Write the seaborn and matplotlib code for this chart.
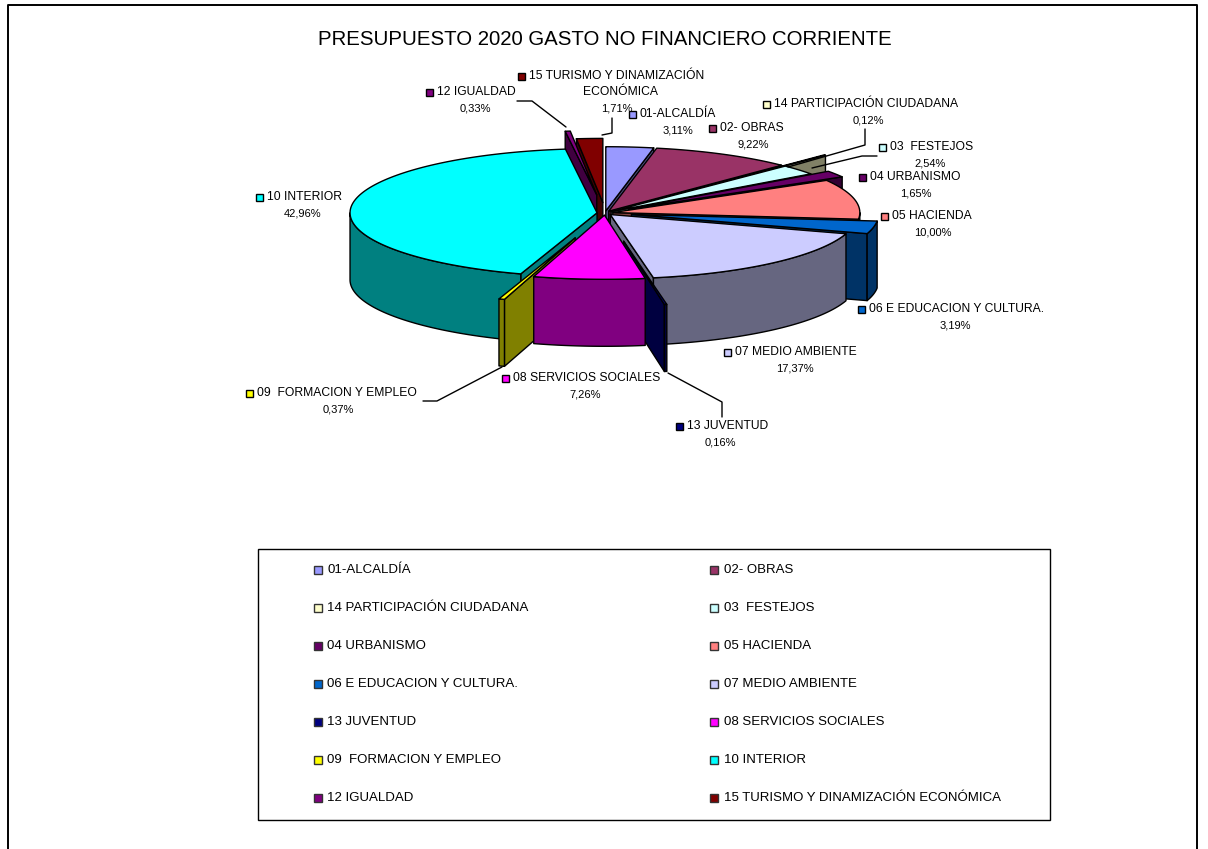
import numpy as np
import seaborn as sns
from matplotlib import pyplot as plt
from matplotlib.patches import Polygon, Rectangle

TITLE = 'PRESUPUESTO 2020 GASTO NO FINANCIERO CORRIENTE'

# Data, in drawing order (clockwise from 12 o'clock)
names = ['01-ALCALDÍA', '02- OBRAS', '14 PARTICIPACIÓN CIUDADANA', '03  FESTEJOS',
         '04 URBANISMO', '05 HACIENDA', '06 E EDUCACION Y CULTURA.', '07 MEDIO AMBIENTE',
         '13 JUVENTUD', '08 SERVICIOS SOCIALES', '09  FORMACION Y EMPLEO', '10 INTERIOR',
         '12 IGUALDAD', '15 TURISMO Y DINAMIZACIÓN ECONÓMICA']
values = [3.11, 9.22, 0.12, 2.54, 1.65, 10.00, 3.19, 17.37, 0.16, 7.26, 0.37, 42.96, 0.33, 1.71]
colors = ['#9999FF', '#993366', '#FFFFCC', '#CCFFFF', '#660066', '#FF8080', '#0066CC',
          '#CCCCFF', '#000080', '#FF00FF', '#FFFF00', '#00FFFF', '#800080', '#800000']

# How far each slice is pulled out of the pie, pixels
explode = [8, 8, 66, 8, 28, 8, 27, 8, 110, 8, 100, 8, 70, 40]

# Pie geometry, pixels
CX, CY = 605, 213
RADIUS = 247
TILT = 0.26
DEPTH = 67

# Data labels: marker x, text y, centre of the percent, centre of a second name line
label_pos = [
    (632, 114, 678, None),
    (712, 128, 753, None),
    (766, 104, 868, None),
    (882, 147, 930, None),
    (862, 177, 916, None),
    (884, 216, 933, None),
    (861, 309, 955, None),
    (727, 352, 795, None),
    (679, 426, 720, None),
    (505, 378, 585, None),
    (249, 393, 338, None),
    (259, 197, 303, None),
    (429, 92, 475, None),
    (521, 76, 617, 620),
]

# Leader lines from label to slice
leaders = [
    [(517, 101), (532, 101), (566, 127)],
    [(612, 118), (612, 133), (602, 135)],
    [(865, 129), (865, 145), (788, 167)],
    [(877, 156), (862, 156), (812, 168)],
    [(423, 401), (437, 401), (502, 367)],
    [(668, 373), (722, 402), (722, 417)],
]

sns.set_theme(style='white')
plt.rcParams['font.family'] = ['Liberation Sans', 'DejaVu Sans']
palette = sns.color_palette(colors)

fig = plt.figure(figsize=(12.08, 8.49), dpi=100, facecolor='white')
ax = fig.add_axes([0, 0, 1, 1])
ax.set_xlim(0, 1208)
ax.set_ylim(849, 0)
ax.axis('off')


def point(theta, r, shift, mid, z=0):
    # Project a pie point (angle clockwise from north) on the tilted plane
    x = CX + shift * np.sin(mid) + r * np.sin(theta)
    y = CY - TILT * (shift * np.cos(mid) + r * np.cos(theta)) + z
    return np.column_stack([x, y]) if np.ndim(theta) else np.array([x, y])


def draw_slice(start, end, color, shift, order):
    mid = (start + end) / 2
    dark = tuple(c * 0.5 for c in color)
    style = dict(edgecolor='black', linewidth=1, joinstyle='round', zorder=order)

    # Radial faces that turn towards the viewer
    face_angles = []
    if np.sin(end) > 0:
        face_angles.append(end)
    if np.sin(start) < 0:
        face_angles.append(start)
    for angle in face_angles:
        tip = point(0.0, 0.0, shift, mid)
        rim = point(angle, RADIUS, shift, mid)
        ax.add_patch(Polygon([tip, rim, rim + [0, DEPTH], tip + [0, DEPTH]], facecolor=dark, **style))

    # Outer wall, only the front half of the rim
    low, high = max(start, np.pi / 2), min(end, 3 * np.pi / 2)
    if high > low:
        arc = point(np.linspace(low, high, 80), RADIUS, shift, mid)
        ax.add_patch(Polygon(np.vstack([arc, (arc + [0, DEPTH])[::-1]]), facecolor=dark, **style))

    # Top face
    arc = point(np.linspace(start, end, 120), RADIUS, shift, mid)
    ax.add_patch(Polygon(np.vstack([point(0.0, 0.0, shift, mid), arc]), facecolor=color, **style))


# Back slices first, front slices last
edges = np.cumsum([0] + values) / sum(values) * 2 * np.pi
mids = (edges[:-1] + edges[1:]) / 2
for order, i in enumerate(np.argsort(-np.abs(mids - np.pi))):
    draw_slice(edges[i], edges[i + 1], palette[i], explode[i], 3 + order)

for line in leaders:
    xs, ys = zip(*line)
    ax.plot(xs, ys, color='black', linewidth=1, zorder=30)


def format_pct(value):
    return f'{value:.2f}%'.replace('.', ',')


# Data labels
for i, (mx, my, px, second_x) in enumerate(label_pos):
    ax.add_patch(Rectangle((mx - 3.5, my - 3.5), 7, 7, facecolor=palette[i], edgecolor='black',
                           linewidth=1, zorder=40))
    first = names[i]
    py = my + 16
    if second_x is not None:
        first, second = names[i].rsplit(' ', 1)
        ax.text(second_x, my + 16, second, fontsize=8.7, ha='center', va='center', color='black', zorder=41)
        py = my + 32
    ax.text(mx + 8, my, first, fontsize=8.7, ha='left', va='center', color='black', zorder=41)
    ax.text(px, py, format_pct(values[i]), fontsize=8, ha='center', va='center', color='black', zorder=41)

ax.text(604.5, 39, TITLE, fontsize=14.7, ha='center', va='center', color='black')

# Legend box, two columns
ax.add_patch(Rectangle((258, 549), 792, 271, facecolor='white', edgecolor='black', linewidth=1, zorder=2))
for i, name in enumerate(names):
    row, col = divmod(i, 2)
    lx = 317.5 if col == 0 else 714
    ly = 570 + row * 38
    ax.add_patch(Rectangle((lx - 4, ly - 4), 8, 8, facecolor=palette[i], edgecolor='#333333',
                           linewidth=1, zorder=3))
    ax.text(lx + 9.5, ly, name, fontsize=9.5, ha='left', va='center', color='black', zorder=3)

# Outer chart frame, open at the bottom of the picture
ax.plot([8, 8, 1197, 1197], [849, 5, 5, 849], color='black', linewidth=1.4, zorder=1)

fig.savefig('out.png', dpi=100)
